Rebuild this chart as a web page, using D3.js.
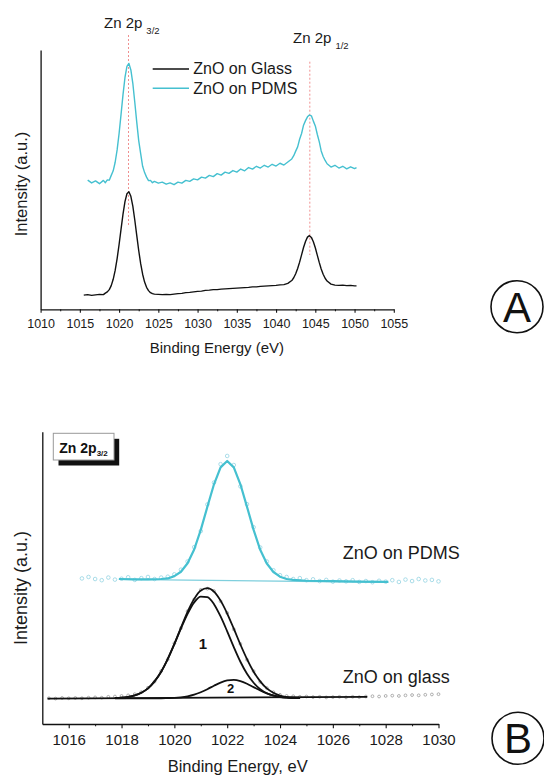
<!DOCTYPE html>
<html>
<head>
<meta charset="utf-8">
<script src="https://cdn.jsdelivr.net/npm/d3@7"></script>
<style>
  body { margin: 0; background: #fff; }
  svg { display: block; font-family: "Liberation Sans", Arial, Helvetica, sans-serif; }
</style>
</head>
<body>
<svg id="chart" width="544" height="777"></svg>
<script>
// ---------- panel A : survey of the Zn 2p region ----------
const energyA = [1015.5, 1016, 1016.5, 1017, 1017.5, 1018,
  1018.25, 1018.5, 1018.75, 1019, 1019.25, 1019.5, 1019.75, 1020, 1020.25, 1020.5, 1020.75, 1021, 1021.25,
  1021.5, 1021.75, 1022, 1022.25, 1022.5, 1022.75, 1023, 1023.25, 1023.5, 1023.75, 1024, 1024.25,
  1024.5, 1025, 1025.5, 1026, 1026.5, 1027, 1027.5, 1028, 1028.5, 1029, 1029.5, 1030, 1030.5, 1031, 1031.5,
  1032, 1032.5, 1033, 1033.5, 1034, 1034.5, 1035, 1035.5, 1036, 1036.5, 1037, 1037.5, 1038, 1038.5, 1039,
  1039.5, 1040, 1040.5, 1041, 1041.5,
  1042, 1042.25, 1042.5, 1042.75, 1043, 1043.25, 1043.5, 1043.75, 1044, 1044.25, 1044.5, 1044.75, 1045,
  1045.25, 1045.5, 1045.75, 1046, 1046.25, 1046.5,
  1047, 1047.5, 1048, 1048.5, 1049, 1049.5, 1050, 1050.25];

const glassA = [5.6, 5.8, 5.5, 5.7, 5.9, 5.8,
  6.4, 6.9, 7.8, 9.4, 11.9, 15.4, 20.1, 25.7, 31.8, 37.7, 42.7, 45.8, 46.6,
  44.8, 40.9, 35.4, 29.3, 23.3, 18.1, 13.9, 10.8, 8.7, 7.4, 6.6, 6.2,
  6.0, 5.9, 5.8, 5.9, 5.8, 6.0, 6.2, 6.3, 6.6, 6.7, 6.9, 7.1, 7.2, 7.5, 7.6,
  7.8, 7.8, 8.0, 8.1, 8.2, 8.3, 8.4, 8.5, 8.6, 8.7, 8.9, 8.9, 9.1, 9.2, 9.3,
  9.4, 9.5, 9.7, 9.8, 10.3,
  11.4, 12.5, 14.1, 16.2, 18.7, 21.6, 24.5, 26.9, 28.6, 29.2, 28.5, 26.8, 24.4,
  21.5, 18.6, 16.0, 13.9, 12.3, 11.2,
  10.0, 9.6, 9.5, 9.6, 9.4, 9.5, 9.3, 9.3];

const pdmsA = [null, 51.2, 50.1, 50.9, 49.8, 51.1,
  50.2, 51.3, 51.2, 53.1, 54.9, 58.3, 63.2, 69.7, 77.3, 85.1, 91.9, 96.3, 97.5,
  94.9, 89.6, 82.1, 74.2, 66.9, 61.7, 56.7, 54.2, 52.4, 51.0, 51.1, 50.2,
  50.7, 50.0, 50.4, 49.6, 50.1, 49.4, 50.4, 50.0, 51.1, 50.7, 51.7, 51.3, 52.4, 52.0, 53.1,
  52.6, 53.8, 53.2, 54.4, 53.9, 55.0, 54.4, 55.6, 54.9, 56.2, 55.6, 56.7, 56.0, 57.1, 56.4,
  57.5, 56.8, 57.9, 57.2, 58.4,
  59.6, 60.9, 62.7, 64.4, 67.4, 69.7, 73.0, 74.8, 76.3, 77.0, 76.7, 74.6, 72.7,
  69.4, 66.5, 62.8, 60.6, 59.0, 57.7,
  56.4, 57.1, 56.0, 56.7, 55.7, 56.5, 55.8, 56.2];

const ticksA = [1010, 1015, 1020, 1025, 1030, 1035, 1040, 1045, 1050, 1055];
const minorTicksA = [1012.5, 1017.5, 1022.5, 1027.5, 1032.5, 1037.5, 1042.5, 1047.5, 1052.5];
const peakEnergies = [1021.2, 1044.3];
const peakSubs = ["3/2", "1/2"];
const seriesNames = ["ZnO on Glass", "ZnO on PDMS"];

// ---------- panel B : Zn 2p3/2 fits ----------
const energyB = [1015.25, 1015.5, 1015.75, 1016, 1016.25, 1016.5, 1016.75, 1017, 1017.25, 1017.5,
  1017.75, 1018, 1018.25, 1018.5, 1018.75, 1019, 1019.25, 1019.5, 1019.75, 1020,
  1020.25, 1020.5, 1020.75, 1021, 1021.25, 1021.5, 1021.75, 1022, 1022.25, 1022.5,
  1022.75, 1023, 1023.25, 1023.5, 1023.75, 1024, 1024.25, 1024.5, 1024.75, 1025,
  1025.25, 1025.5, 1025.75, 1026, 1026.25, 1026.5, 1026.75, 1027, 1027.25, 1027.5,
  1027.75, 1028, 1028.25, 1028.5, 1028.75, 1029, 1029.25, 1029.5, 1029.75, 1030];

const glassPointsB = [8.8, 8.7, 8.9, 8.8, 8.9, 8.8, 9.0, 9.1, 9.0, 9.3,
  9.4, 9.6, 9.8, 10.2, 10.9, 12.4, 14.5, 18.1, 22.1, 27.6,
  32.8, 38.6, 42.6, 45.9, 46.3, 45.5, 42.0, 38.0, 32.4, 27.4,
  22.0, 18.1, 14.4, 12.3, 10.9, 10.0, 9.6, 9.5, 9.3, 9.4,
  9.2, 9.3, 9.1, 9.2, 9.3, 9.1, 9.3, 9.2, 9.4, 9.5,
  9.4, 9.6, 9.7, 9.6, 9.8, 9.9, 9.8, 10.0, 10.1, 10.2];

const pdmsPointsB = [null, null, null, null, null, 49.8, 50.3, 49.6, 49.2, 50.1,
  49.4, 49.7, 50.2, 49.3, 49.9, 50.3, 49.6, 50.1, 50.4, 51.2,
  52.8, 55.6, 60.5, 66.0, 75.1, 82.6, 88.9, 91.7, 88.6, 81.3,
  75.2, 67.3, 60.4, 55.6, 52.6, 50.9, 50.3, 49.6, 49.9, 49.2,
  49.5, 48.9, 49.3, 48.7, 49.1, 48.8, 49.2, 48.6, 48.9, 48.5,
  49.0, 48.7, 49.2, 48.6, 49.4, 48.9, 49.6, 49.1, 49.3, 48.8];

const glassFitE = [1017.75, 1018, 1018.25, 1018.5, 1018.75, 1019, 1019.25, 1019.5, 1019.75, 1020,
  1020.25, 1020.5, 1020.75, 1021, 1021.25, 1021.5, 1021.75, 1022, 1022.25, 1022.5,
  1022.75, 1023, 1023.25, 1023.5, 1023.75, 1024, 1024.25, 1024.5, 1024.75];
const glassComp1 = [8.9, 9.0, 9.3, 9.8, 10.7, 12.2, 14.6, 17.9, 22.2, 27.3,
  32.7, 37.7, 41.6, 43.6, 43.4, 41.0, 36.8, 31.7, 26.3, 21.3,
  17.2, 14.1, 11.9, 10.5, 9.7, 9.2, 9.0, 8.9, 8.85];
const glassComp2 = [8.8, 8.8, 8.8, 8.8, 8.8, 8.8, 8.8, 8.8, 8.86, 8.94,
  9.12, 9.46, 10.02, 10.85, 11.91, 13.10, 14.18, 14.90, 15.09, 14.67,
  13.78, 12.62, 11.46, 10.48, 9.76, 9.30, 9.04, 8.90, 8.84];
const glassEnvelope = [8.9, 9.0, 9.3, 9.8, 10.7, 12.2, 14.6, 17.9, 22.3, 27.4,
  33.0, 38.4, 42.8, 45.7, 46.5, 45.3, 42.2, 37.8, 32.6, 27.2,
  22.2, 17.9, 14.6, 12.2, 10.7, 9.7, 9.2, 9.0, 8.9];
const glassBaseE = [1015.2, 1027.3];
const glassBase = [8.7, 9.3];

const pdmsFitE = [1017.9, 1018.5, 1019, 1019.5, 1019.75, 1020, 1020.25, 1020.5, 1020.75, 1021,
  1021.25, 1021.5, 1021.75, 1022, 1022.25, 1022.5, 1022.75, 1023, 1023.25, 1023.5,
  1023.75, 1024, 1024.25, 1024.5, 1025, 1026, 1027, 1028.1];
const pdmsFit = [49.6, 49.5, 49.5, 49.6, 49.8, 50.6, 52.1, 55.0, 59.7, 66.4,
  74.3, 82.0, 87.8, 90.0, 87.8, 82.0, 74.3, 66.4, 59.6, 54.9,
  52.0, 50.4, 49.6, 49.3, 49.0, 48.9, 48.7, 48.6];
const pdmsBaseE = [1017.9, 1028.1];
const pdmsBase = [49.5, 48.5];

const ticksB = [1016, 1018, 1020, 1022, 1024, 1026, 1028, 1030];
const minorTicksB = [1017, 1019, 1021, 1023, 1025, 1027, 1029];

const cyan = "#45c0d0";
const cyanLight = "#9fd8e5";
const ink = "#111";

let svg = d3.select("#chart");

function styleAxis(g, size) {
  g.attr("font-family", null).attr("font-size", size);
  g.select(".domain").attr("stroke-width", 1.3).attr("stroke", ink);
  g.selectAll(".tick line").attr("stroke-width", 1.1).attr("stroke", ink);
  g.selectAll(".tick text").attr("fill", "#1a1a1a");
}

// ---------------- panel A ----------------
let xA = d3.scaleLinear().domain([1010, 1055]).range([40.6, 393.8]);
let yA = d3.scaleLinear().domain([0, 102.8]).range([309.3, 50]);

svg.append("g")
  .attr("transform", "translate(0," + yA(0) + ")")
  .call(d3.axisBottom(xA).tickValues(minorTicksA).tickSize(2).tickFormat(""))
  .call(g => { g.select(".domain").remove(); g.selectAll("line").attr("stroke", ink); });
svg.append("g")
  .attr("transform", "translate(0," + yA(0) + ")")
  .call(d3.axisBottom(xA).tickValues(ticksA).tickSize(3.5).tickSizeOuter(0).tickPadding(6).tickFormat(d3.format("d")))
  .call(g => styleAxis(g, 12.5));
svg.append("g")
  .attr("transform", "translate(" + xA(1010) + ",0)")
  .call(d3.axisLeft(yA).tickValues([]).tickSizeOuter(0))
  .call(g => styleAxis(g, 10));

// dotted red guide lines through the two peaks
let guideSpan = [[35, 226.7], [61.7, 255]];
svg.selectAll(".guide").data(peakEnergies).join("line")
  .attr("class", "guide")
  .attr("x1", d => xA(d)).attr("x2", d => xA(d))
  .attr("y1", (d, i) => guideSpan[i][0]).attr("y2", (d, i) => guideSpan[i][1])
  .attr("stroke", "#f09090").attr("stroke-width", 1).attr("stroke-dasharray", "2,2");

let labelPos = [{dx: -24.5, y: 28.3}, {dx: -16.8, y: 43.3}];
peakEnergies.forEach((e, i) => {
  let t = svg.append("text")
    .attr("x", xA(e) + labelPos[i].dx).attr("y", labelPos[i].y)
    .attr("font-size", 15).attr("fill", "#1a1a1a");
  t.append("tspan").text("Zn 2p");
  t.append("tspan").attr("dx", 4).attr("dy", 6).attr("font-size", 9.5).text(peakSubs[i]);
});

let lineA = d3.line()
  .defined(d => d[1] != null)
  .x(d => xA(d[0]))
  .y(d => yA(d[1]));

svg.append("path").datum(d3.zip(energyA, pdmsA))
  .attr("d", lineA).attr("fill", "none")
  .attr("stroke", cyan).attr("stroke-width", 1.4).attr("stroke-linejoin", "round");
svg.append("path").datum(d3.zip(energyA, glassA))
  .attr("d", lineA).attr("fill", "none")
  .attr("stroke", ink).attr("stroke-width", 1.4).attr("stroke-linejoin", "round");

// legend
let legendColors = [ink, cyan];
seriesNames.forEach((name, i) => {
  let ly = 69 + i * 19.3;
  svg.append("line")
    .attr("x1", 152.7).attr("x2", 189).attr("y1", ly).attr("y2", ly)
    .attr("stroke", legendColors[i]).attr("stroke-width", 1.5);
  svg.append("text")
    .attr("x", 193.3).attr("y", ly + 5.3)
    .attr("font-size", 16).attr("fill", "#1a1a1a").text(name);
});

svg.append("text")
  .attr("x", 216.9).attr("y", 353.3).attr("text-anchor", "middle")
  .attr("font-size", 15).attr("fill", "#1a1a1a").text("Binding Energy (eV)");
svg.append("text")
  .attr("transform", "translate(26.5,184) rotate(-90)").attr("text-anchor", "middle")
  .attr("font-size", 16.5).attr("fill", "#1a1a1a").text("Intensity (a.u.)");

// ---------------- panel B ----------------
let xB = d3.scaleLinear().domain([1015, 1030]).range([42.3, 438.5]);
let yB = d3.scaleLinear().domain([0, 100]).range([724, 431.7]);

svg.append("g")
  .attr("transform", "translate(0," + yB(0) + ")")
  .call(d3.axisBottom(xB).tickValues(minorTicksB).tickSize(2.3).tickFormat(""))
  .call(g => { g.select(".domain").remove(); g.selectAll("line").attr("stroke", ink); });
svg.append("g")
  .attr("transform", "translate(0," + yB(0) + ")")
  .call(d3.axisBottom(xB).tickValues(ticksB).tickSize(4.3).tickSizeOuter(0).tickPadding(6).tickFormat(d3.format("d")))
  .call(g => styleAxis(g, 15));
svg.append("g")
  .attr("transform", "translate(" + xB(1015) + ",0)")
  .call(d3.axisLeft(yB).tickValues([]).tickSizeOuter(0))
  .call(g => styleAxis(g, 10));

let lineB = d3.line()
  .defined(d => d[1] != null)
  .x(d => xB(d[0]))
  .y(d => yB(d[1]));

// measured points (open circles)
svg.append("g").selectAll("circle")
  .data(d3.zip(energyB, pdmsPointsB).filter(d => d[1] != null))
  .join("circle")
  .attr("cx", d => xB(d[0])).attr("cy", d => yB(d[1])).attr("r", 1.8)
  .attr("fill", "none").attr("stroke", cyanLight).attr("stroke-width", 0.9);
svg.append("g").selectAll("circle")
  .data(d3.zip(energyB, glassPointsB))
  .join("circle")
  .attr("cx", d => xB(d[0])).attr("cy", d => yB(d[1])).attr("r", 1.4)
  .attr("fill", "none").attr("stroke", "#9a9a9a").attr("stroke-width", 0.8);

// PDMS fit
svg.append("path").datum(d3.zip(pdmsBaseE, pdmsBase))
  .attr("d", lineB).attr("fill", "none").attr("stroke", "#7fcfdd").attr("stroke-width", 1.3);
svg.append("path").datum(d3.zip(pdmsFitE, pdmsFit))
  .attr("d", lineB).attr("fill", "none").attr("stroke", cyan).attr("stroke-width", 2.2)
  .attr("stroke-linejoin", "round");

// glass fit: baseline, two components, envelope
svg.append("path").datum(d3.zip(glassBaseE, glassBase))
  .attr("d", lineB).attr("fill", "none").attr("stroke", ink).attr("stroke-width", 1.8);
[glassComp1, glassComp2, glassEnvelope].forEach(vals => {
  svg.append("path").datum(d3.zip(glassFitE, vals))
    .attr("d", lineB.curve(d3.curveMonotoneX)).attr("fill", "none")
    .attr("stroke", ink).attr("stroke-width", 1.8);
});

svg.append("text").attr("x", 203).attr("y", 649.3).attr("text-anchor", "middle")
  .attr("font-size", 15).attr("font-weight", "bold").attr("fill", ink).text("1");
svg.append("text").attr("x", 230.7).attr("y", 693.3).attr("text-anchor", "middle")
  .attr("font-size", 13).attr("font-weight", "bold").attr("fill", ink).text("2");

svg.append("text").attr("x", 342.8).attr("y", 559.3)
  .attr("font-size", 18).attr("fill", "#1a1a1a").text("ZnO on PDMS");
svg.append("text").attr("x", 342.8).attr("y", 683.3)
  .attr("font-size", 18).attr("fill", "#1a1a1a").text("ZnO on glass");

// boxed title with drop shadow
svg.append("rect").attr("x", 58.5).attr("y", 438.8).attr("width", 60.7).attr("height", 26.7).attr("fill", ink);
svg.append("rect").attr("x", 53.3).attr("y", 433.3).attr("width", 60.7).attr("height", 26.7)
  .attr("fill", "#fff").attr("stroke", "#999").attr("stroke-width", 1);
let boxTitle = svg.append("text").attr("x", 59.3).attr("y", 452.7)
  .attr("font-size", 14).attr("font-weight", "bold").attr("fill", ink);
boxTitle.append("tspan").text("Zn 2p");
boxTitle.append("tspan").attr("dy", 3).attr("font-size", 8).text("3/2");

svg.append("text")
  .attr("x", 237.7).attr("y", 771.5).attr("text-anchor", "middle")
  .attr("font-size", 16.5).attr("fill", "#1a1a1a").text("Binding Energy, eV");
svg.append("text")
  .attr("transform", "translate(26.5,588) rotate(-90)").attr("text-anchor", "middle")
  .attr("font-size", 18).attr("fill", "#1a1a1a").text("Intensity (a.u.)");

// panel letters
[{c: "A", x: 517, y: 306.7}, {c: "B", x: 518, y: 738.3}].forEach(p => {
  svg.append("circle").attr("cx", p.x).attr("cy", p.y).attr("r", 26)
    .attr("fill", "none").attr("stroke", ink).attr("stroke-width", 1.6);
  svg.append("text").attr("x", p.x).attr("y", p.y + 15)
    .attr("text-anchor", "middle").attr("font-size", 42).attr("fill", ink).text(p.c);
});
</script>
</body>
</html>
